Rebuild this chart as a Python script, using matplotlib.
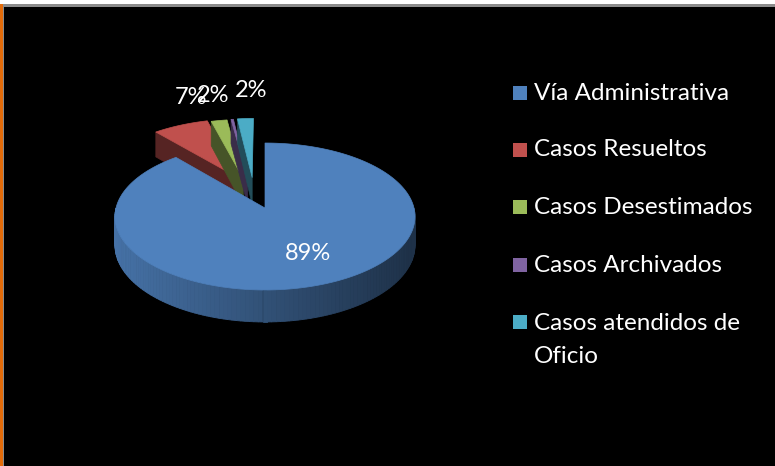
import numpy as np
import matplotlib.pyplot as plt
from matplotlib.colors import to_rgb
from matplotlib.patches import Polygon, Rectangle

# data
labels = ["Vía Administrativa", "Casos Resueltos", "Casos Desestimados",
          "Casos Archivados", "Casos atendidos de\nOficio"]
values = [89, 7, 2, 0.3, 2]
pct_text = ["89%", "7%", "2%", "", "2%"]
colors = ["#4F81BD", "#C0504D", "#9BBB59", "#8064A2", "#4BACC6"]
explode = [0, 0.47, 0.45, 0.45, 0.45]
explode_skew = [0, 5, -8, -8, -8]   # degrees
label_nudge = [(0, 0), (10, -4), (-6, -1), (0, 0), (6, -4)]

# 3d look of the pie (pixel units)
cx, cy = 265, 208
rx, ry = 149, 72.5
k = 0.1156          # perspective
depth = 28.3

plt.rcParams['font.family'] = ['Lato', 'DejaVu Sans']

fig = plt.figure(figsize=(7.75, 4.66), dpi=100, facecolor="black")
ax = fig.add_axes([0, 0, 1, 1])
ax.set_xlim(0, 775)
ax.set_ylim(466, 0)
ax.axis("off")


def proj(theta, r, z, off):
    u = r * np.sin(theta) + off[0]
    v = r * np.cos(theta) + off[1]
    s = 1 / (1 + k * v)
    return cx + rx * u * s, cy - ry * v * s + depth * z * s


def shade(c, f):
    return tuple(np.clip(np.array(to_rgb(c)) * f, 0, 1))


total = sum(values)
angles = np.cumsum([0] + values) / total * 2 * np.pi
offsets = []
for i in range(len(values)):
    d = (angles[i] + angles[i + 1]) / 2 + np.radians(explode_skew[i])
    offsets.append((explode[i] * np.sin(d), explode[i] * np.cos(d)))

order = [1, 2, 3, 4, 0]  # back slices first
for i in order:
    t1, t2 = angles[i], angles[i + 1]
    off = offsets[i]
    col = colors[i]

    # radial walls facing the viewer
    for t, n in [(t1, t1 - np.pi / 2), (t2, t2 + np.pi / 2)]:
        if np.cos(n) < 0:
            p = [proj(t, 0, 0, off), proj(t, 1, 0, off),
                 proj(t, 1, 1, off), proj(t, 0, 1, off)]
            ax.add_patch(Polygon(p, closed=True, fc=shade(col, 0.45),
                                 ec=shade(col, 0.45), lw=0.5))

    # outer wall, front half only
    a = max(t1, np.pi / 2)
    b = min(t2, 3 * np.pi / 2)
    if b > a:
        ts = np.linspace(a, b, 120)
        for j in range(len(ts) - 1):
            p = [proj(ts[j], 1, 0, off), proj(ts[j + 1], 1, 0, off),
                 proj(ts[j + 1], 1, 1, off), proj(ts[j], 1, 1, off)]
            xn = (p[0][0] - (cx - rx)) / (2 * rx)
            f = 0.88 - 0.5 * xn
            ax.add_patch(Polygon(p, closed=True, fc=shade(col, f),
                                 ec=shade(col, f), lw=0.6))

    # top face
    ts = np.linspace(t1, t2, max(int((t2 - t1) * 60), 4))
    p = [proj(0, 0, 0, off)] + [proj(t, 1, 0, off) for t in ts]
    ax.add_patch(Polygon(p, closed=True, fc=col, ec=col, lw=0.5))

# percentage labels
for i in range(len(values)):
    if not pct_text[i]:
        continue
    mid = (angles[i] + angles[i + 1]) / 2
    if i == 0:
        x, y = 308, 253
    else:
        x, y = proj(mid, 1, 0, offsets[i])
        x += label_nudge[i][0]
        y += label_nudge[i][1] - 24
    ax.text(x, y, pct_text[i], color="white", fontsize=17,
            ha="center", va="center")

# legend
rows = [93, 150, 207, 265, 322]
for i in range(len(labels)):
    ax.add_patch(Rectangle((513, rows[i] - 7), 14, 14, fc=colors[i], ec="none"))
    if "\n" in labels[i]:
        ax.text(534, rows[i] - 9, labels[i], color="white", fontsize=17.5,
                ha="left", va="top", linespacing=1.7)
    else:
        ax.text(534, rows[i], labels[i], color="white", fontsize=17.5,
                ha="left", va="center")

# frame lines
ax.add_patch(Rectangle((0, 0), 775, 4, fc="white", ec="none"))
ax.add_patch(Rectangle((0, 4), 775, 2.5, fc="#8c8c8c", ec="none"))
ax.add_patch(Rectangle((0, 4), 2.5, 462, fc="#E46C0A", ec="none"))
ax.add_patch(Rectangle((2.5, 6), 1.2, 460, fc="#8c8c8c", ec="none"))

plt.savefig("out.png", dpi=100, facecolor="black")
